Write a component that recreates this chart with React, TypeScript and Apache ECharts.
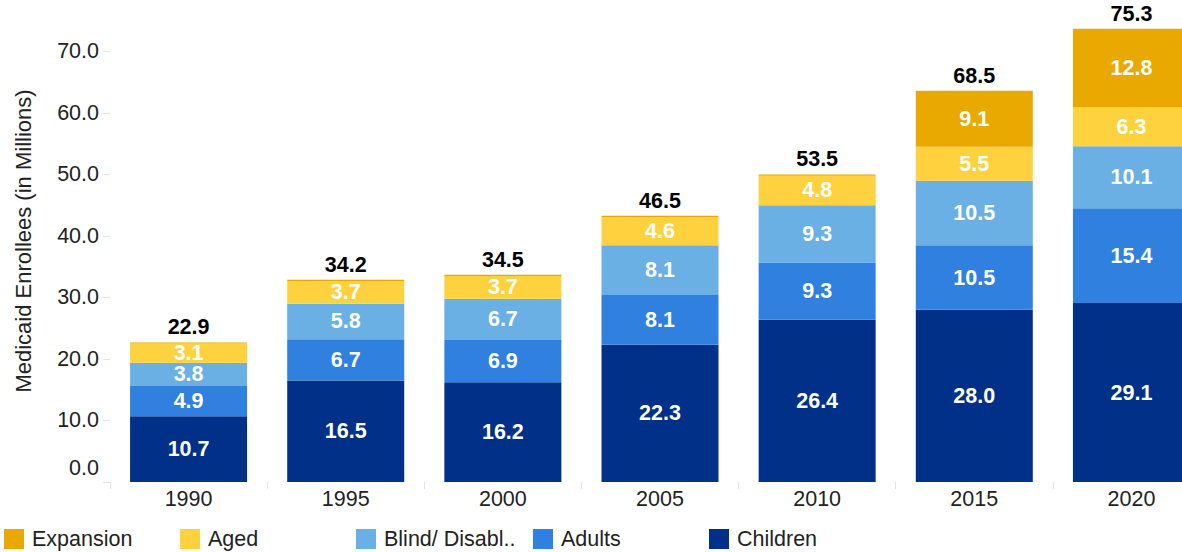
import React, { useEffect, useRef } from "react";
import * as echarts from "echarts";

const years = ["1990", "1995", "2000", "2005", "2010", "2015", "2020"];
const children = [10.7, 16.5, 16.2, 22.3, 26.4, 28.0, 29.1];
const adults = [4.9, 6.7, 6.9, 8.1, 9.3, 10.5, 15.4];
const blind = [3.8, 5.8, 6.7, 8.1, 9.3, 10.5, 10.1];
const aged = [3.1, 3.7, 3.7, 4.6, 4.8, 5.5, 6.3];
const expansion = [0.2, 0.2, 0.2, 0.2, 0.2, 9.1, 12.8];
const totals = [22.9, 34.2, 34.5, 46.5, 53.5, 68.5, 75.3];
const yTicks = [0, 10, 20, 30, 40, 50, 60, 70];
const legendNames = ["Expansion", "Aged", "Blind/ Disabled", "Adults", "Children"];
const legendLefts = [4, 180, 356, 533, 709];

const FONT = "'Liberation Sans', Arial, sans-serif";
const FS = 21.5;

export default function App() {
  const ref = useRef<HTMLDivElement>(null);
  useEffect(() => {
    if (!ref.current) return;
    const chart = echarts.init(ref.current, undefined, { renderer: "svg" });
    const segLabel = {
      show: true,
      position: "inside" as const,
      color: "#ffffff",
      fontWeight: "bold" as const,
      fontSize: FS,
      fontFamily: FONT,
      formatter: (p: any) => (p.value < 1 ? "" : Number(p.value).toFixed(1)),
    };
    const mk = (name: string, data: number[], color: string) => ({
      name,
      type: "bar",
      stack: "all",
      data,
      barWidth: 117,
      itemStyle: { color },
      label: segLabel,
    });
    chart.setOption({
      animation: false,
      textStyle: { fontFamily: FONT },
      grid: {
        left: 110,
        top: 0,
        width: 1100,
        height: 482,
        containLabel: false,
        outerBoundsMode: "none",
      },
      legend: legendNames.map((n, i) => ({
        left: legendLefts[i],
        top: 528,
        padding: 0,
        itemWidth: 20,
        itemHeight: 20,
        icon: "rect",
        data: [n],
        formatter: (s: string) => (s === "Blind/ Disabled" ? "Blind/ Disabl.." : s),
        textStyle: {
          fontSize: FS,
          fontFamily: FONT,
          color: "#222",
          padding: [0, 0, 0, 3],
        },
      })),
      xAxis: {
        type: "category",
        data: years,
        axisLine: { show: false },
        axisTick: { show: true, length: 7, lineStyle: { color: "#e4e4e4" } },
        axisLabel: { fontSize: FS, fontFamily: FONT, color: "#222", margin: 6 },
      },
      yAxis: {
        type: "value",
        min: 0,
        max: 78.37,
        interval: 10,
        name: "Medicaid Enrollees (in Millions)",
        nameLocation: "middle",
        nameGap: 76,
        nameTextStyle: { fontSize: 22, fontFamily: FONT, color: "#222" },
        splitLine: { show: false },
        axisLine: { show: false },
        axisTick: { show: true, length: 7, lineStyle: { color: "#e4e4e4" } },
        axisLabel: {
          fontSize: FS,
          fontFamily: FONT,
          color: "#222",
          margin: 11,
          showMaxLabel: false,
          formatter: (v: number) =>
            yTicks.includes(v) ? (v === 0 ? "{z|0.0}" : v.toFixed(1)) : "",
          rich: { z: { fontSize: FS, fontFamily: FONT, color: "#222", padding: [0, 0, 28, 0] } },
        },
      },
      series: [
        mk("Children", children, "#003087"),
        mk("Adults", adults, "#3080E0"),
        mk("Blind/ Disabled", blind, "#6AB0E4"),
        mk("Aged", aged, "#FED13F"),
        mk("Expansion", expansion, "#EAA900"),
        {
          name: "Total",
          type: "bar",
          stack: "all",
          barWidth: 117,
          data: totals.map(() => 0),
          itemStyle: { color: "transparent" },
          silent: true,
          label: {
            show: true,
            position: "top",
            distance: 4,
            color: "#000",
            fontWeight: "bold",
            fontSize: FS,
            fontFamily: FONT,
            formatter: (p: any) => totals[p.dataIndex].toFixed(1),
          },
        },
      ],
    });
    return () => chart.dispose();
  }, []);
  return (
    <div
      ref={ref}
      style={{ position: "fixed", left: 0, top: 0, width: 1182, height: 552, background: "#fff" }}
    />
  );
}
